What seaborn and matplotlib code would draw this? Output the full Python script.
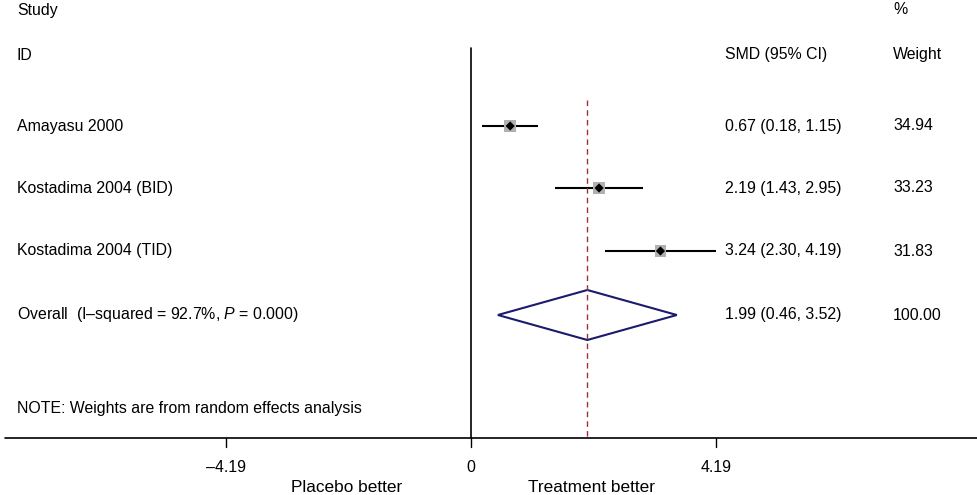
import matplotlib.pyplot as plt
import seaborn as sns
import pandas as pd

# data
studies = ["Amayasu 2000", "Kostadima 2004 (BID)", "Kostadima 2004 (TID)"]
smd = [0.67, 2.19, 3.24]
ci_low = [0.18, 1.43, 2.30]
ci_high = [1.15, 2.95, 4.19]
weights = [34.94, 33.23, 31.83]
overall = 1.99
overall_low = 0.46
overall_high = 3.52
overall_weight = 100.00
overall_label = "Overall  (I\u2013squared = 92.7%, $P$ = 0.000)"
tick_values = [-4.19, 0, 4.19]
tick_labels = ["\u20134.19", "0", "4.19"]

# row positions (pixel rows, y axis inverted)
row_y = [126, 188, 251]
overall_y = 315

sns.set_theme(style="white")
plt.rcParams["font.family"] = ["Liberation Sans", "DejaVu Sans"]
plt.rcParams["text.color"] = "black"
plt.rcParams["mathtext.fontset"] = "custom"
plt.rcParams["mathtext.rm"] = "Liberation Sans"
plt.rcParams["mathtext.it"] = "Liberation Sans:italic"

fig = plt.figure(figsize=(9.77, 4.95), dpi=100)
ax = fig.add_axes([0, 0, 1, 1])
px = 58.47  # pixels per unit
x0 = 471
ax.set_xlim((0 - x0) / px, (977 - x0) / px)
ax.set_ylim(495, 0)
ax.axis("off")

df = pd.DataFrame({"study": studies, "smd": smd, "lo": ci_low, "hi": ci_high,
                   "w": weights, "y": row_y})

fs = 11.4
col_smd = (725 - x0) / px
col_w = (893 - x0) / px
col_left = (17 - x0) / px

# headers
ax.text(col_left, 10, "Study", fontsize=fs, va="center")
ax.text(col_left, 55, "ID", fontsize=fs, va="center")
ax.text(col_smd, 55, "SMD (95% CI)", fontsize=fs, va="center")
ax.text(col_w, 10, "%", fontsize=fs, va="center")
ax.text(col_w, 55, "Weight", fontsize=fs, va="center")

# null line and overall dashed line
ax.plot([0, 0], [48, 438], color="black", lw=1.2)
ax.plot([overall, overall], [100, 438], color="#a0303a", lw=1, ls=(0, (4, 3)), zorder=5)

# confidence intervals
ax.hlines(df["y"], df["lo"], df["hi"], color="black", lw=1.5, zorder=3)
sns.scatterplot(data=df, x="smd", y="y", marker="s", s=df["w"] * 2.0, color="#b0b0b0",
                edgecolor="none", ax=ax, zorder=4, legend=False)
sns.scatterplot(data=df, x="smd", y="y", marker="D", s=22, color="black",
                edgecolor="none", ax=ax, zorder=6, legend=False)

for _, r in df.iterrows():
    ax.text(col_left, r["y"], r["study"], fontsize=fs, va="center")
    ax.text(col_smd, r["y"], f"{r['smd']:.2f} ({r['lo']:.2f}, {r['hi']:.2f})", fontsize=fs, va="center")
    ax.text(col_w, r["y"], f"{r['w']:.2f}", fontsize=fs, va="center")

# overall diamond
ax.fill([overall_low, overall, overall_high, overall, overall_low],
        [overall_y, overall_y - 25, overall_y, overall_y + 25, overall_y],
        facecolor="none", edgecolor="#1a1a6e", lw=1.5, zorder=4)
ax.text(col_left, overall_y, overall_label, fontsize=fs, va="center")
ax.text(col_smd, overall_y, f"{overall:.2f} ({overall_low:.2f}, {overall_high:.2f})", fontsize=fs, va="center")
ax.text(col_w, overall_y, f"{overall_weight:.2f}", fontsize=fs, va="center")

ax.text(col_left, 408, "NOTE: Weights are from random effects analysis", fontsize=fs, va="center")

# x axis
ax.plot([(5 - x0) / px, (977 - x0) / px], [438, 438], color="black", lw=1.2)
for v, lab in zip(tick_values, tick_labels):
    ax.plot([v, v], [438, 447], color="black", lw=1)
    ax.text(v, 467, lab, fontsize=fs, ha="center", va="center")
ax.text((347 - x0) / px, 488, "Placebo better", fontsize=12.4, ha="center", va="center")
ax.text((592 - x0) / px, 488, "Treatment better", fontsize=12.4, ha="center", va="center")

fig.savefig("out.png", dpi=100)
